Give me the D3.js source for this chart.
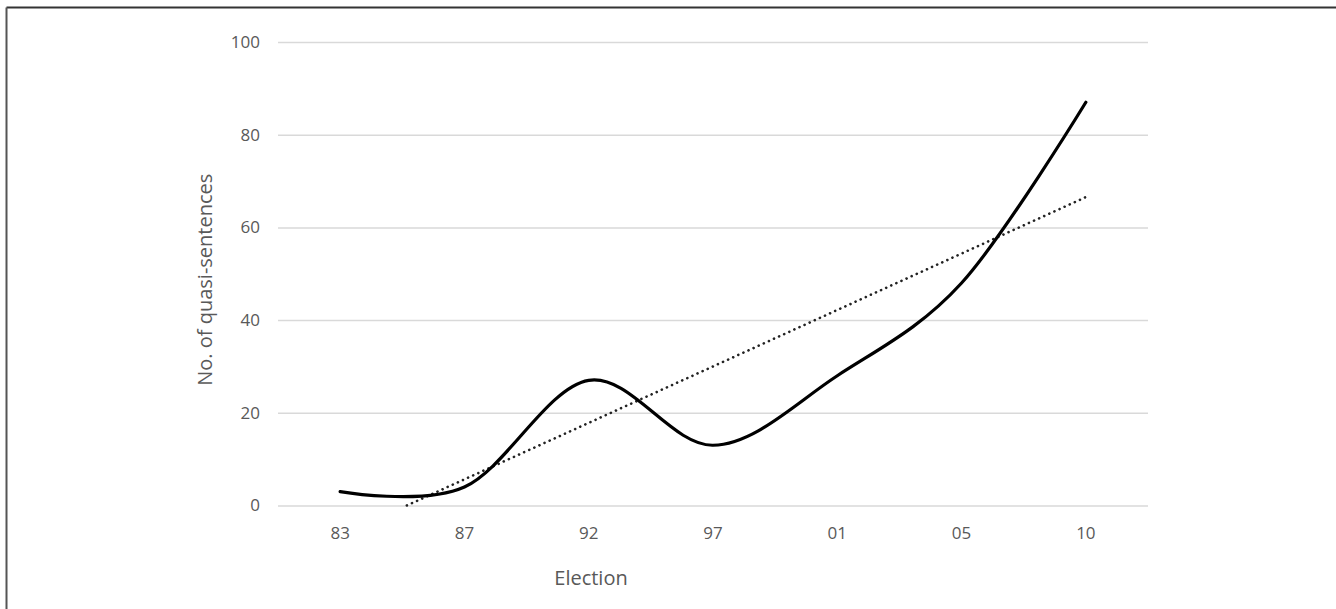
<!DOCTYPE html>
<html><head><meta charset="utf-8">
<script src="https://cdn.jsdelivr.net/npm/d3@7"></script>
<style>
html,body{margin:0;padding:0;background:#fff;}
svg text{font-family:"Open Sans","Liberation Sans",sans-serif;}
</style></head>
<body>
<svg id="chart" width="1336" height="609"></svg>
<script>
const categories = ["83","87","92","97","01","05","10"];
const values = [3, 4, 27, 13, 28, 48, 87];
const yTicks = [0, 20, 40, 60, 80, 100];
const xTitle = "Election";
const yTitle = "No. of quasi-sentences";

const svg = d3.select("#chart");
const W = 1336, H = 609;
const m = {left: 278, right: 1148, top: 42, bottom: 505.5};

// frame (top and left edges visible)
svg.append("line").attr("x1",6.5).attr("x2",W).attr("y1",7.5).attr("y2",7.5)
  .attr("stroke","#333").attr("stroke-width",2);
svg.append("line").attr("x1",6.5).attr("x2",6.5).attr("y1",7.5).attr("y2",H)
  .attr("stroke","#555").attr("stroke-width",2);

const x = d3.scaleBand().domain(categories).range([m.left, m.right]);
const y = d3.scaleLinear().domain([0,100]).range([m.bottom, m.top]);
const cx = d => x(d) + x.bandwidth()/2;

// gridlines
const yAxis = d3.axisLeft(y).tickValues(yTicks).tickSize(-(m.right-m.left)).tickPadding(18);
const gy = svg.append("g").attr("transform",`translate(${m.left},0)`).call(yAxis);
gy.select(".domain").remove();
gy.selectAll(".tick line").attr("stroke","#d9d9d9").attr("stroke-width",1.5);
gy.selectAll(".tick text").attr("fill","#595959").style("font-size","17px");

const xAxis = d3.axisBottom(x).tickSize(0).tickPadding(21);
const gx = svg.append("g").attr("transform",`translate(0,${m.bottom})`).call(xAxis);
gx.select(".domain").remove();
gx.selectAll(".tick text").attr("fill","#595959").style("font-size","17px");

// trendline (linear regression over category index)
const n = values.length;
const xs = values.map((v,i)=>i+1);
const mx = d3.mean(xs), my = d3.mean(values);
const slope = d3.sum(xs.map((xi,i)=>(xi-mx)*(values[i]-my))) / d3.sum(xs.map(xi=>(xi-mx)**2));
const icpt = my - slope*mx;
const idx = d3.scaleLinear().domain([1,n]).range([cx(categories[0]), cx(categories[n-1])]);
let x0 = 1;
if (icpt + slope*x0 < 0) x0 = -icpt/slope;
svg.append("line")
  .attr("x1", idx(x0)).attr("y1", y(icpt+slope*x0))
  .attr("x2", idx(n)).attr("y2", y(icpt+slope*n))
  .attr("stroke","#222").attr("stroke-width",2.6)
  .attr("stroke-dasharray","0.1 5.5").attr("stroke-linecap","round");

// smoothed line
const line = d3.line().x((d,i)=>cx(categories[i])).y(d=>y(d)).curve(d3.curveCardinal.tension(0));
svg.append("path").datum(values).attr("d",line)
  .attr("fill","none").attr("stroke","#000").attr("stroke-width",3.2).attr("stroke-linecap","round");

// titles
svg.append("text").attr("x",(m.left+m.right)/2 - 122).attr("y",585).attr("text-anchor","middle")
  .attr("fill","#595959").style("font-size","20px").text(xTitle);
svg.append("text").attr("transform",`translate(212,${(m.top+m.bottom)/2+6}) rotate(-90)`)
  .attr("text-anchor","middle").attr("fill","#595959").style("font-size","20px").text(yTitle);
</script>
</body></html>
